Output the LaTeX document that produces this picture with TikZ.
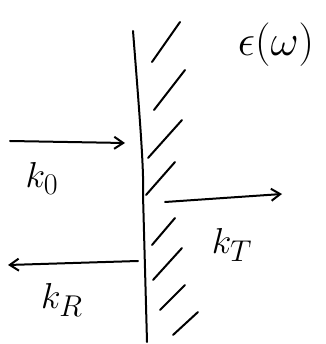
\documentclass[tikz,border=0pt]{standalone}
\usepackage{amsmath,amssymb}
\usetikzlibrary{arrows.meta}

\begin{document}
\begin{tikzpicture}[x=1pt,y=-1pt,
  wall/.style={line width=2pt, line cap=round},
  hatch/.style={line width=2pt, line cap=round},
  wave/.style={-{Straight Barb[length=9pt, width=12pt, line width=2pt]}, line width=2pt, line cap=round},
  lbl/.style={inner sep=0pt, font=\Huge}]
\useasboundingbox (0,0) rectangle (325,344);
% interface
\coordinate (wtop) at (133,31);
\coordinate (wmid) at (143,195);
\coordinate (wbot) at (147,342);
\draw[wall] (wtop) .. controls (140,120) and (144,170) .. (wmid) -- (wbot);
% hatching on the medium side
\foreach \xa/\ya/\xb/\yb in {152/62/180/22, 154/110/185/70, 148/158/182/120, 146/195/175/162,
  152/245/175/218, 153/280/182/248, 160/310/185/285, 173/335/198/312}
  \draw[hatch] (\xa,\ya) -- (\xb,\yb);
% waves
\coordinate (k0a) at (10,141);
\coordinate (k0b) at (125,143);
\coordinate (kta) at (165,202);
\coordinate (ktb) at (282,194);
\coordinate (kra) at (138,261);
\coordinate (krb) at (8,265);
\draw[wave] (k0a) -- (k0b);
\draw[wave] (kta) -- (ktb);
\draw[wave] (kra) -- (krb);
% labels
\node[lbl] (lk0) at (42,178) {\scalebox{1.45}{$k_0$}};
\node[lbl] (lkt) at (232,245) {\scalebox{1.45}{$k_T$}};
\node[lbl] (lkr) at (62,300) {\scalebox{1.45}{$k_R$}};
\node[lbl] (leps) at (276,45) {\scalebox{1.75}{$\epsilon(\omega)$}};
\end{tikzpicture}
\end{document}
